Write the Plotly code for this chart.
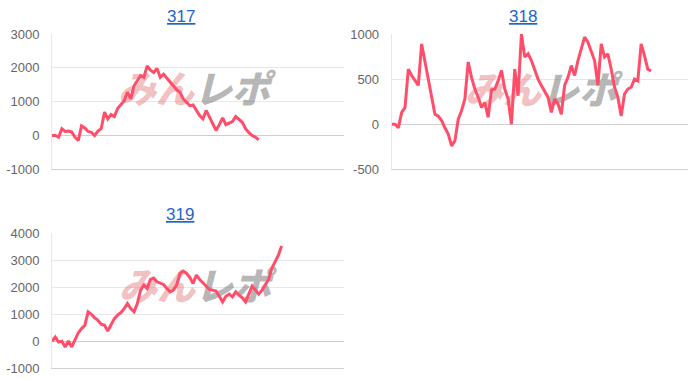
import plotly.graph_objects as go

titles = ["317", "318", "319"]

s317 = [0, 0, -50, 200, 120, 130, 100, -50, -150, 280,
        220, 120, 90, 0, 130, 200, 690, 490, 620, 560,
        800, 930, 1030, 1280, 1080, 1470, 1620, 1770, 1720, 2060,
        1930, 1860, 1980, 1720, 1810, 1690, 1570, 1470, 1350, 1280,
        1080, 980, 880, 900, 740, 590, 490, 740, 540, 340,
        150, 320, 520, 320, 370, 410, 560, 460, 390, 200,
        80, 0, -50, -130]

s318 = [0, 0, -40, 130, 185, 610, 540, 490, 430, 890,
        705, 520, 335, 110, 90, 40, -40, -110, -240, -185,
        55, 150, 280, 690, 520, 390, 300, 185, 240, 75,
        380, 390, 480, 595, 390, 280, 0, 610, 315, 1000,
        745, 780, 705, 610, 500, 430, 370, 300, 130, 280,
        225, 110, 430, 520, 650, 540, 705, 835, 965, 910,
        800, 705, 430, 890, 745, 780, 610, 410, 300, 90,
        335, 390, 410, 500, 480, 890, 760, 610, 590]

s319 = [0, 160, -25, 0, -210, 10, -210, 40, 310, 470,
        590, 1090, 1000, 870, 780, 630, 590, 380, 590, 840,
        970, 1065, 1210, 1400, 1210, 1090, 1400, 1895, 2080, 1955,
        2290, 2340, 2205, 2140, 2105, 1955, 1830, 1895, 2080, 2515,
        2600, 2515, 2365, 2140, 2455, 2290, 2165, 2045, 1920, 1895,
        1860, 1670, 1460, 1670, 1745, 1645, 1830, 1710, 1610, 1460,
        1745, 2045, 1895, 1745, 1895, 2080, 2290, 2700, 2950, 3195,
        3530]

ticks317 = [-1000, 0, 1000, 2000, 3000]
ticks318 = [-500, 0, 500, 1000]
ticks319 = [-1000, 0, 1000, 2000, 3000, 4000]

series = [s317, s318, s319]
tick_sets = [ticks317, ticks318, ticks319]
n_labels = 90
wm_x = [43.3, 44.9, 43.6]
wm_y = [1250, 330, 1890]

W, H = 700, 380
# plot areas in pixels: (x0, x1, ytop, ybottom)
areas = [(52, 344, 34, 169.3), (391.7, 687.7, 34, 169.3), (52, 344, 233.3, 368.3)]
title_pos = [(180.5, 16), (523, 16), (180, 214)]

LINE = "#ff4d6a"
fig = go.Figure()

for i, (vals, area) in enumerate(zip(series, areas)):
    k = "" if i == 0 else str(i + 1)
    xa, ya = "x" + k, "y" + k
    # watermark (below the line)
    fig.add_trace(go.Scatter(
        x=[wm_x[i]], y=[wm_y[i]], mode="text", text=["みん"],
        textposition="middle left", hoverinfo="skip", showlegend=False, cliponaxis=False,
        textfont=dict(family="Noto Sans CJK JP", size=38, color="rgba(225,105,105,0.42)",
                      weight=900, style="italic"),
        xaxis=xa, yaxis=ya))
    fig.add_trace(go.Scatter(
        x=[wm_x[i]], y=[wm_y[i]], mode="text", text=["レポ"],
        textposition="middle right", hoverinfo="skip", showlegend=False, cliponaxis=False,
        textfont=dict(family="Noto Sans CJK JP", size=38, color="rgba(120,120,120,0.55)",
                      weight=900, style="italic"),
        xaxis=xa, yaxis=ya))
    fig.add_trace(go.Scatter(
        x=list(range(len(vals))), y=vals, mode="lines",
        line=dict(color=LINE, width=3), showlegend=False,
        xaxis=xa, yaxis=ya))

    ticks = tick_sets[i]
    x0, x1, yt, yb = area
    fig.layout["xaxis" + k] = dict(
        domain=[x0 / W, x1 / W], range=[0, n_labels - 1], anchor=ya,
        showticklabels=False, showgrid=False, zeroline=False, automargin=False,
        showline=True, linecolor="#d2d2d2", linewidth=1, fixedrange=True)
    fig.layout["yaxis" + k] = dict(
        domain=[(H - yb) / H, (H - yt) / H], range=[ticks[0], ticks[-1]],
        tickmode="array", tickvals=ticks, ticktext=[str(t) for t in ticks],
        anchor=xa, showgrid=True, gridcolor="#e8e8e8", gridwidth=1, automargin=False,
        zeroline=True, zerolinecolor="#cfcfcf", zerolinewidth=1,
        showline=True, linecolor="#e8e8e8", linewidth=1,
        tickfont=dict(family="Liberation Sans", size=13, color="#666666"),
        ticklabelstandoff=9, fixedrange=True)

annotations = []
for (tx, ty), t in zip(title_pos, titles):
    annotations.append(dict(
        x=tx / W, y=(H - ty) / H, xref="paper", yref="paper",
        text="<u>" + t + "</u>", showarrow=False, xanchor="center", yanchor="middle",
        font=dict(family="Liberation Sans", size=17, color="#1a66cc")))

fig.update_layout(
    width=W, height=H, margin=dict(l=0, r=0, t=0, b=0, autoexpand=False),
    paper_bgcolor="white", plot_bgcolor="white",
    annotations=annotations, showlegend=False)

fig.write_html("out.html", config={"displayModeBar": False},
               post_script="document.body.style.margin='0';document.body.style.padding='0';")
